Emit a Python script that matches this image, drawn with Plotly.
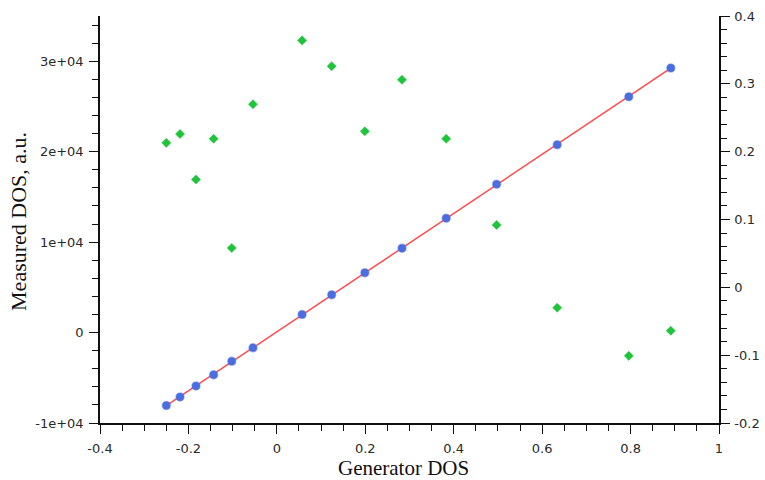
import numpy as np
import plotly.graph_objects as go

# Generator DOS (x) shared by both series
gen_dos = [-0.250, -0.219, -0.183, -0.143, -0.102, -0.054, 0.057, 0.124,
           0.199, 0.283, 0.383, 0.497, 0.634, 0.796, 0.891]

# Measured DOS (left axis, a.u.)
measured = [-8075, -7113, -5896, -4679, -3175, -1692, 1991, 4170,
            6604, 9325, 12644, 16405, 20763, 26073, 29237]

# Residuals (right axis)
residual = [0.213, 0.226, 0.159, 0.219, 0.058, 0.270, 0.364, 0.326,
            0.230, 0.306, 0.219, 0.092, -0.030, -0.101, -0.064]

# Left axis tick labels
left_ticks = [-10000, 0, 10000, 20000, 30000]
left_labels = ["-1e+04", "0", "1e+04", "2e+04", "3e+04"]

# Linear fit of measured vs generator DOS
slope, intercept = np.polyfit(gen_dos, measured, 1)
fit_x = [min(gen_dos), max(gen_dos)]
fit_y = [slope * v + intercept for v in fit_x]

tick_font = dict(family="DejaVu Sans", size=13, color="#2a2a2a")
title_family = "Liberation Serif"

fig = go.Figure()

fig.add_trace(go.Scatter(
    x=fit_x, y=fit_y, mode="lines",
    line=dict(color="#ff4a4a", width=1.5),
    showlegend=False, hoverinfo="skip",
))
fig.add_trace(go.Scatter(
    x=gen_dos, y=measured, mode="markers",
    marker=dict(symbol="circle", size=8, color="#4a6ee0",
                line=dict(color="rgba(74,110,224,0.45)", width=1.5)),
    showlegend=False,
))
fig.add_trace(go.Scatter(
    x=gen_dos, y=residual, mode="markers", yaxis="y2",
    marker=dict(symbol="diamond", size=7, color="#1ec43a",
                line=dict(color="rgba(30,196,58,0.5)", width=1)),
    showlegend=False,
))

axis_common = dict(
    showgrid=False, zeroline=False, showline=True, automargin=False,
    linecolor="#111111", linewidth=1.5,
    ticks="outside", ticklen=9, tickwidth=1.3, tickcolor="#111111",
    tickfont=tick_font,
)

fig.update_layout(
    width=765, height=480,
    margin=dict(l=100, r=46, t=16, b=57),
    paper_bgcolor="white", plot_bgcolor="white",
    xaxis=dict(
        **axis_common,
        range=[-0.4, 1.0],
        tickvals=[-0.4, -0.2, 0, 0.2, 0.4, 0.6, 0.8, 1.0],
        ticktext=["-0.4", "-0.2", "0", "0.2", "0.4", "0.6", "0.8", "1"],
        ticklabelstandoff=4,
        minor=dict(dtick=0.05, tick0=0, ticks="outside", ticklen=6,
                   tickwidth=1.2, tickcolor="#111111", showgrid=False),
    ),
    yaxis=dict(
        **axis_common,
        range=[-10000, 35000],
        tickvals=left_ticks, ticktext=left_labels,
        ticklabelstandoff=3,
        minor=dict(dtick=2000, tick0=0, ticks="outside", ticklen=6,
                   tickwidth=1.2, tickcolor="#111111", showgrid=False),
    ),
    yaxis2=dict(
        **axis_common,
        overlaying="y", side="right", anchor="x",
        range=[-0.2, 0.4],
        tickvals=[-0.2, -0.1, 0, 0.1, 0.2, 0.3, 0.4],
        ticktext=["-0.2", "-0.1", "0", "0.1", "0.2", "0.3", "0.4"],
        ticklabelstandoff=2,
        minor=dict(dtick=0.02, tick0=0, ticks="outside", ticklen=6,
                   tickwidth=1.2, tickcolor="#111111", showgrid=False),
    ),
)

# Axis titles placed below / left of the plot area
fig.add_annotation(
    text="Generator DOS", xref="paper", yref="paper",
    x=0.491, y=0, xanchor="center", yanchor="middle", yshift=-45,
    showarrow=False, font=dict(family=title_family, size=21, color="#111111"),
)
fig.add_annotation(
    text="Measured DOS, a.u.", xref="paper", yref="paper",
    x=0, y=0.494, xanchor="center", yanchor="middle", xshift=-81,
    textangle=-90, showarrow=False,
    font=dict(family=title_family, size=22, color="#111111"),
)

fig.write_html("out.html")
